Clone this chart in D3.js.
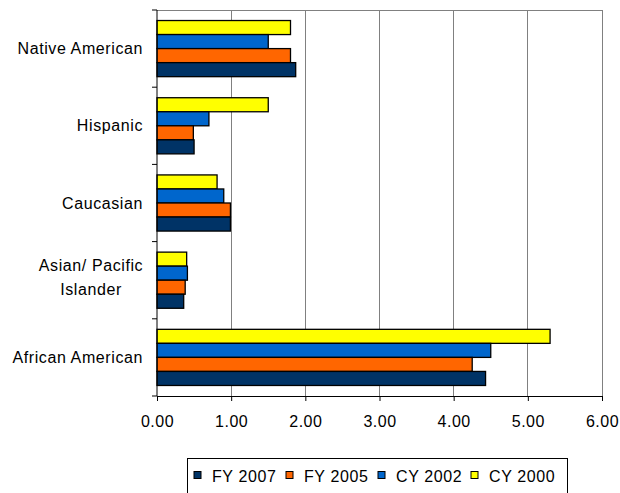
<!DOCTYPE html>
<meta charset="utf-8">
<head>
<style>
html, body {margin:0px; padding:0px; background:white;}
text {font-family: "Liberation Sans", Arial, sans-serif;}
</style>
</head>
<script src="https://d3js.org/d3.v7.min.js"></script>
<div id="my_dataviz"></div>
<script>

// categories from top to bottom
var groups = ["Native American", "Hispanic", "Caucasian", "Asian/ Pacific Islander", "African American"]
// series as they stack inside a group, top to bottom
var series = ["CY 2000", "CY 2002", "FY 2005", "FY 2007"]
var colors = ["#FFFF00", "#0066CC", "#FF6600", "#003366"]

var cy2000 = [1.80, 1.50, 0.81, 0.40, 5.30]
var cy2002 = [1.50, 0.70, 0.90, 0.41, 4.50]
var fy2005 = [1.80, 0.49, 0.99, 0.38, 4.25]
var fy2007 = [1.87, 0.50, 0.99, 0.36, 4.43]
var xTicks = [0, 1, 2, 3, 4, 5, 6]

// legend order
var legendOrder = ["FY 2007", "FY 2005", "CY 2002", "CY 2000"]

var values = [cy2000, cy2002, fy2005, fy2007]
var data = []
groups.forEach(function(g, i) {
  series.forEach(function(s, j) {
    data.push({group: g, series: s, value: values[j][i]})
  })
})

var margin = {top: 10, left: 157, right: 18, bottom: 97}
var W = 620, H = 493
var width = W - margin.left - margin.right
var height = H - margin.top - margin.bottom

var svg = d3.select("#my_dataviz")
  .append("svg")
    .attr("width", W)
    .attr("height", H)
  .append("g")
    .attr("transform", "translate(" + margin.left + "," + margin.top + ")")

var x = d3.scaleLinear().domain([0, 6]).range([0, width])
var y = d3.scaleBand().domain(groups).range([0, height]).padding(0)
var y1 = d3.scaleBand().domain(series).range([0, y.bandwidth()])
  .paddingInner(0).paddingOuter(0.75)
var color = d3.scaleOrdinal().domain(series).range(colors)

// gridlines
svg.selectAll(".grid")
  .data(xTicks.slice(1))
  .enter().append("line")
    .attr("x1", function(d) { return x(d) })
    .attr("x2", function(d) { return x(d) })
    .attr("y1", 0).attr("y2", height)
    .style("stroke", "#808080")
    .style("stroke-width", 1)
    .attr("shape-rendering", "crispEdges")

// plot border top
svg.append("line")
  .attr("x1", 0).attr("x2", width).attr("y1", 0).attr("y2", 0)
  .style("stroke", "#808080").attr("shape-rendering", "crispEdges")

// bars
svg.selectAll(".bar")
  .data(data)
  .enter().append("rect")
    .attr("x", x(0))
    .attr("y", function(d) { return y(d.group) + y1(d.series) })
    .attr("width", function(d) { return x(d.value) - x(0) })
    .attr("height", y1.bandwidth())
    .style("fill", function(d) { return color(d.series) })
    .style("stroke", "black")
    .style("stroke-width", 1.3)

// x axis
var xAxis = svg.append("g")
  .attr("transform", "translate(0," + height + ")")
  .call(d3.axisBottom(x).tickValues(xTicks).tickFormat(d3.format(".2f")).tickSize(5).tickPadding(15))
xAxis.selectAll("text").style("font-size", "16px").style("letter-spacing", "0.5px").style("fill", "black")
xAxis.selectAll("line, path").style("stroke", "black")

// y axis: ticks at the category boundaries
var yAxis = svg.append("g")
yAxis.append("line")
  .attr("x1", 0).attr("x2", 0).attr("y1", 0).attr("y2", height)
  .style("stroke", "black")
yAxis.selectAll(".ytick")
  .data(d3.range(groups.length + 1))
  .enter().append("line")
    .attr("x1", -5).attr("x2", 0)
    .attr("y1", function(i) { return i * y.step() })
    .attr("y2", function(i) { return i * y.step() })
    .style("stroke", "black")

// y labels
groups.forEach(function(g) {
  var cy = y(g) + y.bandwidth() / 2
  var t = svg.append("text")
    .attr("x", -14)
    .attr("y", cy)
    .style("font-size", "16px")
    .style("letter-spacing", "0.6px")
    .style("fill", "black")
  if (g.indexOf("Asian") === 0) {
    t.attr("text-anchor", "middle")
    t.append("tspan").attr("x", -66).attr("y", cy - 9).text("Asian/ Pacific")
    t.append("tspan").attr("x", -66).attr("y", cy + 15).text("Islander")
  } else {
    t.attr("text-anchor", "end").attr("dy", "0.35em").text(g)
  }
})

// legend
var legend = d3.select("svg").append("g")
legend.append("rect")
  .attr("x", 187.5).attr("y", 458.5)
  .attr("width", 380).attr("height", 40)
  .style("fill", "white").style("stroke", "black")
var lx = [194, 286, 378, 471]
legendOrder.forEach(function(s, i) {
  legend.append("rect")
    .attr("x", lx[i]).attr("y", 471.5)
    .attr("width", 7).attr("height", 7)
    .style("fill", color(s)).style("stroke", "black")
  legend.append("text")
    .attr("x", lx[i] + 18).attr("y", 482)
    .style("font-size", "16px")
    .style("letter-spacing", "0.6px")
    .text(s)
})

</script>
</html>
